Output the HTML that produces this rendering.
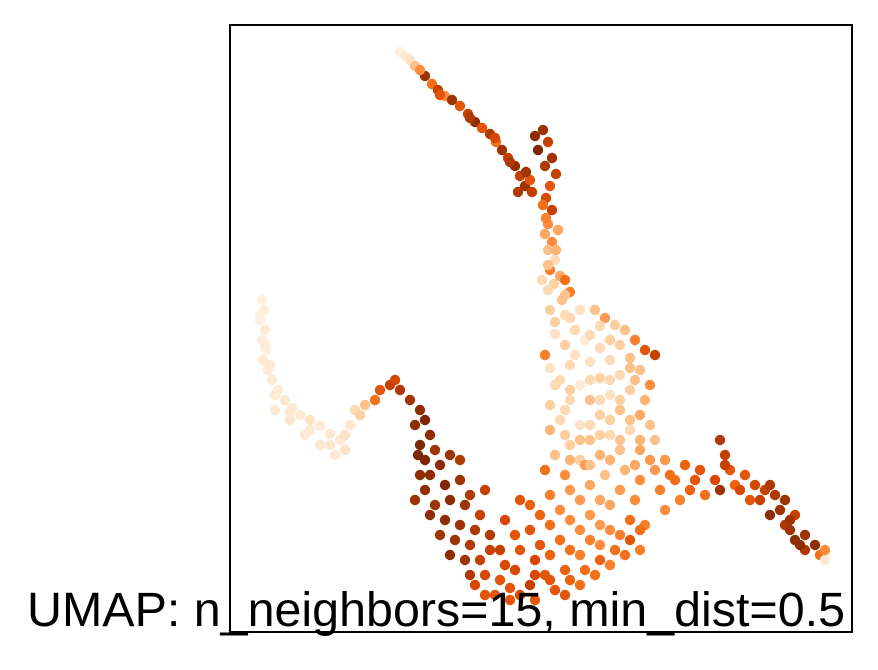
<!DOCTYPE html>
<html><head><meta charset="utf-8"><style>
html,body{margin:0;padding:0;background:#fff;}
svg{display:block;}
</style></head><body>
<svg id="chart" width="878" height="670" viewBox="0 0 878 670">
<rect x="0" y="0" width="878" height="670" fill="#fff"/>
<g id="points"></g>
<rect x="230" y="25" width="622" height="607" fill="none" stroke="#000" stroke-width="2"/>
<text x="27" y="626" font-family="Liberation Sans, sans-serif" font-size="48" textLength="818" lengthAdjust="spacingAndGlyphs" fill="#000">UMAP: n_neighbors=15, min_dist=0.5</text>
</svg>
<script>
const umap1 = [
40.0,40.5,41.0,41.5,42.5,43.2,43.8,44.5,45.2,46.0,46.8,47.5,48.2,49.0,49.6,50.2,50.8,51.5,52.0,52.5,51.8,53.0,
53.5,54.3,54.8,53.8,55.2,54.5,55.6,55.0,54.6,55.2,54.3,54.8,54.5,55.2,54.8,55.5,55.0,56.0,55.4,56.5,54.8,56.2,55.0,57.0,
56.5,58.0,59.5,60.5,61.5,62.5,60.0,57.5,55.5,56.5,58.5,60.0,62.0,63.5,64.5,65.5,63.0,61.0,59.0,57.0,55.0,54.5,56.0,58.0,60.0,62.0,64.0,65.0,63.0,61.0,59.0,57.0,55.0,56.0,58.0,60.0,62.0,64.0,65.0,63.0,61.0,59.0,57.0,55.5,58.0,60.0,62.0,64.0,65.5,66.5,55.0,62.5,60.5,
26.2,26.4,26.0,26.5,26.2,26.6,26.3,26.8,27.2,27.8,28.5,29.2,30.0,31.0,32.0,33.0,34.0,34.5,33.5,32.0,30.5,29.0,27.5,35.0,35.5,36.5,37.5,38.0,39.0,
39.5,40.0,41.0,42.0,42.5,43.0,42.0,43.5,42.5,44.0,45.0,46.0,43.0,44.5,46.0,42.5,43.5,45.0,47.0,44.5,46.0,48.0,45.5,47.0,49.0,48.0,50.0,46.5,50.5,52.0,
48.5,50.0,51.5,53.0,54.5,52.0,49.5,55.5,57.0,58.5,60.0,61.5,63.0,53.5,52.0,55.0,57.0,59.0,61.0,63.0,53.0,55.0,57.0,59.0,61.0,63.5,53.0,55.0,57.0,59.0,56.5,54.5,58.5,
64.0,65.5,66.0,67.5,68.5,69.5,70.5,71.5,72.0,72.5,73.0,72.0,73.5,74.5,75.5,76.5,77.5,78.0,78.5,77.0,79.0,79.5,80.5,81.5,80.5,82.0,82.5,79.5,75.0,68.0,66.5,64.5,
41.5,41.8,42.0,41.5,43.0,44.0,45.0,47.5,46.5,48.5,47.0,49.0,51.5,
47.5,48.5,50.5,51.0,53.5,55.0,56.5,58.0,59.5,61.0,62.5,64.0,54.0,56.0,58.0,60.0,62.0,64.0,54.0,56.0,58.0,60.0,62.0,60.0,58.0,51.0,53.5,56.5,
57.0,55.5,59.0,61.0,63.0,57.5,55.5,57.0,59.0,61.0,63.5,60.0,62.0,64.5,56.5,59.0,61.0,63.0,56.5,58.0,60.0,62.0,64.0,57.0,59.0,61.0,63.5,65.0,
54.8,55.6,54.6,55.8,54.2,56.5,
42.0,44.0,47.0,49.5,51.0,52.6,53.2,
26.0,26.5,27.0,27.5,29.0,31.0,33.0,34.5,36.0,
67.0,69.0,70.0,72.5,74.0,76.0,77.0,78.5,79.0,80.0,82.5
];
const umap2 = [
-5.2,-5.6,-6.0,-6.6,-7.6,-8.4,-9.0,-9.6,-10.0,-10.6,-11.4,-12.2,-12.8,-13.4,-14.2,-15.0,-15.8,-16.6,-17.6,-18.6,-19.2,-18.0,
-13.6,-13.0,-14.2,-15.0,-15.8,-16.6,-17.4,-18.6,-19.8,-21.0,-20.5,-22.4,-23.4,-24.2,-25.0,-26.0,-27.0,-27.6,-28.4,-28.0,-29.0,-30.0,-31.0,-29.2,
-31.5,-31.0,-31.0,-31.8,-32.5,-33.0,-32.6,-33.0,-33.4,-34.5,-34.0,-34.8,-34.5,-34.0,-35.0,-35.5,-35.8,-36.0,-36.2,-36.5,-36.8,-35.5,-38.0,-38.5,-37.8,-37.5,-37.0,-38.5,-39.0,-39.5,-40.0,-40.0,-40.5,-42.0,-42.5,-41.5,-41.0,-41.5,-42.5,-43.0,-43.5,-44.0,-44.5,-45.5,-46.0,-45.5,-45.0,-45.0,-44.0,-46.0,-43.0,-47.0,-47.5,
-30.0,-31.0,-32.0,-33.0,-34.0,-35.0,-36.0,-37.0,-38.0,-39.0,-40.0,-40.8,-41.5,-42.0,-42.6,-43.4,-44.0,-45.0,-45.5,-44.5,-43.5,-42.0,-41.0,-42.5,-41.0,-40.5,-40.0,-39.0,-38.5,
-38.0,-39.0,-40.0,-41.0,-42.0,-43.5,-44.5,-45.0,-46.0,-46.5,-45.5,-46.0,-47.5,-48.5,-48.0,-49.0,-50.5,-50.0,-49.5,-52.0,-52.5,-51.5,-54.0,-54.5,-53.5,-56.0,-55.0,-56.0,-52.0,-50.0,
-57.5,-58.0,-57.0,-58.5,-57.5,-59.5,-59.5,-59.0,-58.0,-57.0,-56.0,-55.0,-54.0,-56.0,-55.0,-55.5,-55.0,-54.0,-53.0,-52.0,-53.0,-52.5,-52.0,-51.5,-50.5,-50.0,-50.5,-49.5,-49.0,-48.5,-47.5,-47.0,-46.5,
-48.0,-47.0,-49.0,-48.0,-46.5,-48.0,-49.5,-48.0,-44.0,-45.5,-47.0,-49.0,-48.5,-47.5,-48.5,-49.0,-49.5,-51.0,-52.5,-51.5,-53.0,-54.0,-53.5,-54.5,-55.0,-55.5,-56.0,-51.5,-50.0,-50.0,-51.0,-52.5,
-42.5,-45.5,-47.5,-50.0,-51.5,-53.5,-55.5,-53.0,-50.5,-49.0,-57.5,-55.0,-53.5,
-58.5,-59.5,-56.5,-58.8,-57.5,-58.0,-57.0,-58.5,-57.5,-56.5,-55.5,-55.0,-54.5,-54.0,-55.5,-54.5,-53.5,-53.0,-51.5,-51.0,-50.0,-50.0,-49.0,-52.5,-53.0,-60.0,-60.0,-59.5,
-31.8,-32.2,-33.5,-34.0,-36.8,-35.5,-38.5,-39.0,-38.0,-38.0,-38.0,-40.0,-40.0,-40.0,-41.0,-42.5,-42.0,-42.0,-43.5,-44.0,-43.5,-44.0,-44.0,-46.0,-46.5,-46.0,-46.5,-46.0,
-26.5,-25.0,-21.8,-23.0,-28.0,-29.5,
-7.0,-9.5,-11.8,-13.8,-16.2,-17.2,-19.2,
-31.5,-34.5,-36.5,-39.5,-41.2,-43.0,-44.5,-43.5,-41.5,
-47.5,-49.0,-47.0,-46.5,-49.0,-50.0,-48.5,-50.0,-52.0,-54.5,-55.0
];
const values = [
0.05,0.1,0.15,0.3,0.9,0.6,0.8,0.5,0.9,0.7,0.8,0.95,0.7,0.85,0.6,0.9,0.8,0.95,0.8,0.9,0.85,0.7,
0.95,0.9,0.8,1.0,0.9,0.85,0.8,0.7,0.75,0.8,0.6,0.5,0.4,0.5,0.3,0.2,0.55,0.4,0.25,0.6,0.2,0.3,0.25,0.55,
0.2,0.15,0.3,0.45,0.25,0.3,0.2,0.2,0.15,0.25,0.1,0.2,0.25,0.55,0.7,0.8,0.3,0.2,0.15,0.2,0.15,0.55,0.2,0.1,0.25,0.2,0.3,0.5,0.25,0.15,0.3,0.2,0.25,0.2,0.15,0.25,0.3,0.4,0.3,0.2,0.2,0.3,0.25,0.3,0.25,0.35,0.3,0.4,0.3,0.45,0.35,0.35,0.3,
0.05,0.08,0.05,0.1,0.08,0.05,0.1,0.08,0.1,0.1,0.12,0.1,0.1,0.15,0.1,0.12,0.1,0.15,0.1,0.1,0.1,0.12,0.1,0.12,0.2,0.3,0.6,0.7,0.8,
0.75,0.85,0.9,0.95,1.0,0.95,1.0,0.9,1.0,0.95,0.9,0.85,0.95,1.0,0.9,0.95,0.9,0.95,0.85,0.95,0.9,0.8,0.9,0.85,0.85,0.8,0.8,0.9,0.75,0.7,
0.75,0.7,0.75,0.8,0.7,0.75,0.7,0.7,0.65,0.6,0.65,0.6,0.7,0.75,0.7,0.65,0.6,0.55,0.5,0.6,0.7,0.6,0.5,0.45,0.4,0.5,0.65,0.55,0.45,0.4,0.5,0.6,0.45,
0.5,0.45,0.55,0.6,0.65,0.7,0.6,0.75,0.85,0.8,0.7,0.9,0.65,0.7,0.75,0.8,0.85,0.9,0.85,0.95,0.9,0.95,0.9,0.95,0.85,0.6,0.1,0.8,0.7,0.55,0.5,0.55,
0.95,1.0,0.95,0.9,0.95,0.9,0.95,0.85,0.9,0.8,0.85,0.8,0.7,
0.75,0.7,0.75,0.7,0.75,0.7,0.65,0.6,0.6,0.55,0.6,0.55,0.7,0.6,0.55,0.5,0.55,0.6,0.65,0.5,0.45,0.4,0.45,0.45,0.5,0.7,0.7,0.7,
0.2,0.25,0.2,0.25,0.3,0.15,0.2,0.25,0.2,0.2,0.3,0.2,0.25,0.35,0.2,0.2,0.25,0.3,0.25,0.3,0.25,0.3,0.35,0.35,0.3,0.35,0.4,0.45,
0.3,0.35,0.55,0.4,0.2,0.3,
0.5,0.7,0.85,0.75,0.85,0.9,0.8,
0.05,0.08,0.1,0.1,0.12,0.1,0.12,0.15,0.25,
0.6,0.65,0.7,0.8,0.75,0.8,0.85,0.9,0.9,0.95,0.5
];
const xDomain = [23.0, 85.2];
const yDomain = [-63.2, -2.5];
function xScale(v){ return 230 + (v - xDomain[0]) / (xDomain[1]-xDomain[0]) * 622; }
function yScale(v){ return 632 - (v - yDomain[0]) / (yDomain[1]-yDomain[0]) * 607; }
const stops = ["#fff5eb","#fee6ce","#fdd0a2","#fdae6b","#fd8d3c","#f16913","#d94801","#a63603","#7f2704"];
function hex(h){ return [parseInt(h.slice(1,3),16),parseInt(h.slice(3,5),16),parseInt(h.slice(5,7),16)]; }
function cmap(t){
  t = Math.max(0, Math.min(1, t));
  const p = t*(stops.length-1), i = Math.min(stops.length-2, Math.floor(p)), f = p - i;
  const a = hex(stops[i]), b = hex(stops[i+1]);
  return "rgb(" + a.map((c,k)=>Math.round(c+(b[k]-c)*f)).join(",") + ")";
}
const g = document.getElementById("points");
const NS = "http://www.w3.org/2000/svg";
const n = Math.min(umap1.length, umap2.length, values.length);
for (let i = 0; i < n; i++) {
  const c = document.createElementNS(NS, "circle");
  c.setAttribute("cx", xScale(umap1[i]).toFixed(1));
  c.setAttribute("cy", yScale(umap2[i]).toFixed(1));
  c.setAttribute("r", "5.2");
  c.setAttribute("fill", cmap(values[i]));
  
  
  g.appendChild(c);
}
</script>
</body></html>
